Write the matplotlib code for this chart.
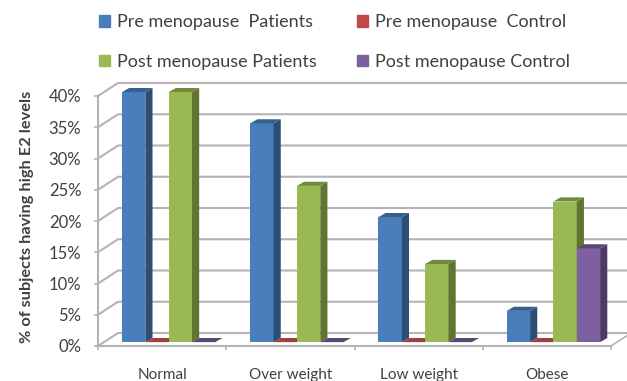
import matplotlib
matplotlib.use("Agg")
import matplotlib.pyplot as plt
from matplotlib.patches import Patch, Polygon

categories = ["Normal", "Over weight", "Low weight", "Obese"]
pre_patients = [40, 35, 20, 5]
pre_control = [0, 0, 0, 0]
post_patients = [40, 25, 12.5, 22.5]
post_control = [0, 0, 0, 15]
y_ticks = [0, 5, 10, 15, 20, 25, 30, 35, 40]

series_names = ["Pre menopause  Patients", "Pre menopause  Control",
                "Post menopause Patients", "Post menopause Control"]
series_values = [pre_patients, pre_control, post_patients, post_control]
# front, side, top shades of each series
series_colors = [("#4a7ebb", "#2c4d75", "#35608f"),
                 ("#be4b48", "#8c3836", "#a33f3c"),
                 ("#98b954", "#5f7530", "#6f8a3c"),
                 ("#7d60a0", "#4d3b62", "#5c4677")]

# fake 3d offsets, in data units
WALL_DX, WALL_DY = 0.156, 2.08
BAR_DX, BAR_DY = 0.056, 0.66
BAR_W = 0.182
BAR_START = 0.187
BAR_LIFT = 0.62
GRID = "#b4b4b4"
TEXT = "#404040"

plt.rcParams["font.family"] = ["Lato", "DejaVu Sans"]

W, H = 627, 381
fig = plt.figure(figsize=(W / 100, H / 100), dpi=100)
ax = fig.add_axes([98 / W, (H - 346) / H, (611 - 98) / W, 250 / H])
ax.set_xlim(0, 4)
ax.set_ylim(0, 40)
ax.patch.set_visible(False)

# back wall and floor
for v in y_ticks:
    ax.plot([0, WALL_DX, 4 + WALL_DX], [v, v + WALL_DY, v + WALL_DY],
            color=GRID, lw=1.5, clip_on=False, zorder=1)
ax.plot([4, 4 + WALL_DX], [0, WALL_DY], color=GRID, lw=1.2, clip_on=False, zorder=1)

# bars, left to right so that neighbours overlap properly
for c in range(len(categories)):
    for s, values in enumerate(series_values):
        front, side, top = series_colors[s]
        v = values[c]
        x0 = c + BAR_START + s * BAR_W
        x1 = x0 + BAR_W
        y0 = BAR_LIFT
        y1 = BAR_LIFT + v
        z = 3 + c * 4 + s
        if v > 0:
            ax.bar(x0, v, BAR_W, bottom=y0, align="edge", color=front, zorder=z, clip_on=False)
            ax.add_patch(Polygon([(x1, y0), (x1 + BAR_DX, y0 + BAR_DY),
                                  (x1 + BAR_DX, y1 + BAR_DY), (x1, y1)],
                                 color=side, lw=0, zorder=z, clip_on=False))
        ax.add_patch(Polygon([(x0, y1), (x1, y1), (x1 + BAR_DX, y1 + BAR_DY),
                              (x0 + BAR_DX, y1 + BAR_DY)],
                             color=top, lw=0, zorder=z, clip_on=False))

for name in ["top", "right"]:
    ax.spines[name].set_visible(False)
for name in ["left", "bottom"]:
    ax.spines[name].set_color(GRID)
    ax.spines[name].set_linewidth(1.5)

ax.set_yticks(y_ticks)
ax.set_yticklabels([f"{v}%" for v in y_ticks], fontsize=12, color=TEXT)
ax.tick_params(axis="y", length=3, width=1.2, color=GRID, pad=9)
ax.set_xticks(range(5))
ax.set_xticklabels([])
ax.tick_params(axis="x", length=3, width=1.2, color=GRID)
ax.set_xticks([c + 0.5 for c in range(4)], minor=True)
ax.set_xticklabels(categories, minor=True, fontsize=11, color=TEXT)
ax.tick_params(axis="x", which="minor", length=0, pad=16)

fig.text(27 / W, (H - 217) / H, "% of subjects having high E2 levels", rotation=90,
         ha="center", va="center", fontsize=11.8, fontweight="bold", color=TEXT)

handles = [Patch(color=series_colors[i][0]) for i in [0, 2, 1, 3]]
labels = [series_names[i] for i in [0, 2, 1, 3]]
fig.legend(handles, labels, ncol=2, loc="upper left", bbox_to_anchor=(94 / W, (H - 9) / H),
           frameon=False, fontsize=13, labelcolor=TEXT, handlelength=0.6, handleheight=0.6,
           handletextpad=0.4, columnspacing=2.2, labelspacing=1.3, borderpad=0.3, borderaxespad=0)

fig.savefig("out.png", dpi=100)
